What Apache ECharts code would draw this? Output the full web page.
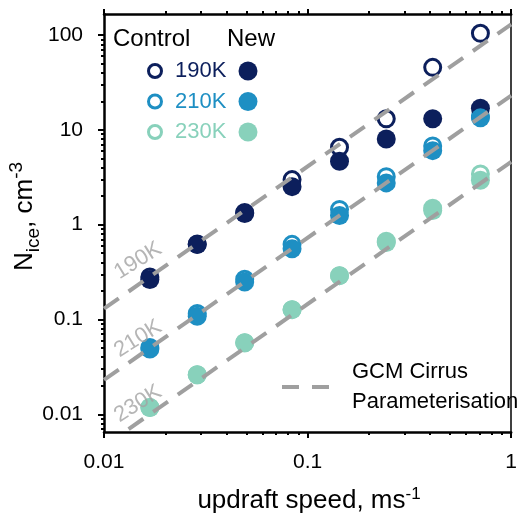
<!DOCTYPE html>
<html><head><meta charset="utf-8">
<script src="https://cdn.jsdelivr.net/npm/echarts@6/dist/echarts.min.js"></script>
<style>html,body{margin:0;padding:0;background:#fff}#c{width:520px;height:516px}</style>
</head><body><div id="c"></div>
<script>
// ---- data ----
const speeds = [0.0168, 0.0287, 0.0491, 0.0839, 0.1435, 0.2435, 0.4117, 0.7063];
const control190 = [0.281, 0.625, 1.345, 2.99, 6.55, 13.1, 45.7, 104.5];
const new190     = [0.264, 0.618, 1.313, 2.52, 4.66, 8.0, 13.1, 16.9];
const control210 = [0.0506, 0.1156, 0.266, 0.62, 1.45, 3.21, 6.77, 14.0];
const new210     = [0.0489, 0.108, 0.249, 0.558, 1.25, 2.76, 6.04, 13.4];
const control230 = [0.0118, 0.0261, 0.0568, 0.127, 0.29, 0.67, 1.49, 3.43];
const new230     = [0.0118, 0.0261, 0.0568, 0.127, 0.29, 0.65, 1.41, 2.94];
const gcmSpeed = [0.01, 1];
const gcm190 = [0.13, 130];
const gcm210 = [0.023, 23];
const gcm230 = [0.0046, 4.6];
const temps = ['190K', '210K', '230K'];
const lineLabelSpeed = [0.0147, 0.0147, 0.0147];
const lineLabelN = [0.417, 0.0626, 0.0129];
const xMajor = [0.01, 0.1, 1];
const xMinor = [0.02,0.03,0.04,0.05,0.06,0.07,0.08,0.09,0.2,0.3,0.4,0.5,0.6,0.7,0.8,0.9];
const yMajor = [0.01, 0.1, 1, 10, 100];
const yMinor = [0.007,0.008,0.009,0.02,0.03,0.04,0.05,0.06,0.07,0.08,0.09,0.2,0.3,0.4,0.5,0.6,0.7,0.8,0.9,2,3,4,5,6,7,8,9,20,30,40,50,60,70,80,90];

// ---- styles ----
const F = 'Liberation Sans, Arial, sans-serif';
const colors = ['#0c1f5c', '#1e8fc3', '#88d1bb'];
const gray = '#9f9f9f';
const X_MIN = 0.01, X_MAX = 1, Y_MIN = 0.0065, Y_MAX = 167;

const fmt = v => String(+(+v).toPrecision(4));
const pair = (xs, ys) => xs.map((x, i) => [x, ys[i]]);

function xAx(position, ticks, len, showLine, showLabel) {
  return {
    type: 'log', logBase: 10, min: X_MIN, max: X_MAX, position,
    axisLine: {show: showLine, onZero: false, lineStyle: {color: '#000', width: 2.5}},
    axisTick: {show: true, customValues: ticks, length: len, lineStyle: {color: '#000', width: 2}},
    axisLabel: showLabel ? {show: true, customValues: ticks, formatter: fmt, fontSize: 21, fontFamily: F, color: '#000', margin: 20} : {show: false},
    splitLine: {show: false}, minorTick: {show: false}
  };
}
function yAx(position, ticks, len, showLine, showLabel, lw) {
  return {
    type: 'log', logBase: 10, min: Y_MIN, max: Y_MAX, position,
    axisLine: {show: showLine, onZero: false, lineStyle: {color: '#000', width: lw || 2.5}},
    axisTick: ticks ? {show: true, customValues: ticks, length: len, lineStyle: {color: '#000', width: 2}} : {show: false},
    axisLabel: showLabel ? {show: true, customValues: ticks, formatter: fmt, fontSize: 21, fontFamily: F, color: '#000', margin: 21} : {show: false},
    splitLine: {show: false}, minorTick: {show: false}
  };
}

const series = [];
const gcmName = 'GCM Cirrus Parameterisation';
[gcm190, gcm210, gcm230].forEach(g => {
  series.push({
    type: 'line', name: gcmName, data: pair(gcmSpeed, g), symbol: 'none', showSymbol: false,
    clip: true, silent: true,
    lineStyle: {color: gray, width: 4, type: [18, 12], cap: 'butt'}
  });
});
series.push({
  type: 'scatter', name: 'lineLabels', silent: true, symbolSize: 1,
  itemStyle: {color: 'transparent'},
  data: lineLabelSpeed.map((x, i) => ({value: [x, lineLabelN[i]], name: temps[i]})),
  label: {show: true, position: 'inside', formatter: p => p.name, rotate: 32, fontSize: 22, fontFamily: F, color: '#a3a3a3'}
});
const ctrl = [control190, control210, control230];
const nw = [new190, new210, new230];
ctrl.forEach((c, i) => series.push({
  type: 'scatter', name: 'Control ' + temps[i], data: pair(speeds, c), symbol: 'circle', symbolSize: 16,
  itemStyle: {color: '#fff', borderColor: colors[i], borderWidth: 3, opacity: 1}
}));
nw.forEach((c, i) => series.push({
  type: 'scatter', name: 'New ' + temps[i], data: pair(speeds, c), symbol: 'circle', symbolSize: 19,
  itemStyle: {color: colors[i], opacity: 1}
}));

const option = {
  animation: false,
  backgroundColor: '#fff',
  grid: {left: 104, right: 1, top: 14, bottom: 84, containLabel: false},
  xAxis: [
    xAx('bottom', xMajor, 6, true, true),
    xAx('bottom', xMinor, 3, false, false),
    xAx('top', xMajor, 5, true, false),
    xAx('top', xMinor, 3, false, false)
  ],
  yAxis: [
    yAx('left', yMajor, 6, true, true),
    yAx('left', yMinor, 3, false, false),
    yAx('right', null, 0, true, false, 1.5)
  ],
  legend: [
    {
      orient: 'vertical', left: 142, top: 55, itemWidth: 30, itemHeight: 13, itemGap: 8.5,
      selectedMode: false, icon: 'circle',
      itemStyle: {borderWidth: 3},
      data: temps.map((t, i) => ({name: 'Control ' + t, textStyle: {color: colors[i]}})),
      formatter: n => n.replace('Control ', ''),
      textStyle: {fontSize: 22, fontFamily: F, lineHeight: 22}
    },
    {
      orient: 'vertical', left: 233.5, top: 55, itemWidth: 19, itemHeight: 19, itemGap: 8.5,
      selectedMode: false, icon: 'circle',
      itemStyle: {borderWidth: 0},
      data: temps.map(t => 'New ' + t),
      formatter: () => ' ',
      textStyle: {fontSize: 22, fontFamily: F, lineHeight: 22}
    },
    {
      orient: 'vertical', left: 275, top: 352, itemWidth: 48, itemHeight: 10,
      selectedMode: false,
      itemStyle: {color: 'transparent', borderWidth: 0, opacity: 0},
      lineStyle: {color: gray, width: 4, type: [17, 13], cap: 'butt', opacity: 1},
      data: [gcmName],
      formatter: n => n.replace('Cirrus ', 'Cirrus\n'),
      textStyle: {fontSize: 22, fontFamily: F, lineHeight: 30, color: '#000', padding: [0, 0, 0, 17]}
    }
  ],
  graphic: [
    {type: 'text', x: 113, y: 39, style: {text: 'Control', fontSize: 24, fontFamily: F, fill: '#000', align: 'left', verticalAlign: 'middle'}},
    {type: 'text', x: 227, y: 39, style: {text: 'New', fontSize: 24, fontFamily: F, fill: '#000', align: 'left', verticalAlign: 'middle'}},
    {type: 'text', x: 309, y: 501, style: {
      text: '{n|updraft speed, ms}{p|-1}', align: 'center', verticalAlign: 'middle',
      rich: {n: {fontSize: 26, lineHeight: 30, fontFamily: F, fill: '#000'}, p: {fontSize: 17, lineHeight: 14, verticalAlign: 'top', fontFamily: F, fill: '#000'}}
    }},
    {type: 'text', x: 25, y: 271, rotation: Math.PI / 2, style: {
      text: '{n|N}{s|ice}{n|, cm}{p|-3}', align: 'left', verticalAlign: 'middle',
      rich: {n: {fontSize: 26, lineHeight: 36, fontFamily: F, fill: '#000'}, s: {fontSize: 19, lineHeight: 16, verticalAlign: 'bottom', fontFamily: F, fill: '#000'}, p: {fontSize: 19, lineHeight: 16, verticalAlign: 'top', fontFamily: F, fill: '#000'}}
    }}
  ],
  series
};
const chart = echarts.init(document.getElementById('c'), null, {renderer: 'canvas'});
chart.setOption(option);
</script>
</body></html>
